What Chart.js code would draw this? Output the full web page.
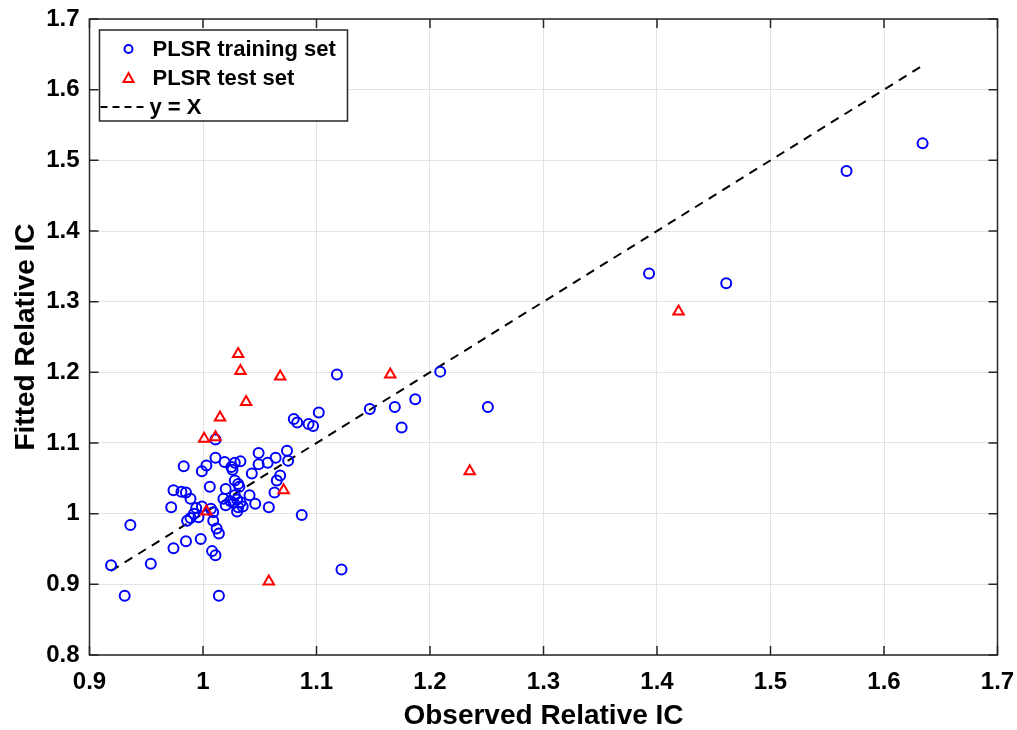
<!DOCTYPE html>
<html>
<head>
<meta charset="utf-8">
<script src="https://cdn.jsdelivr.net/npm/chart.js@4"></script>
<style>
  html, body { margin: 0; padding: 0; background: #fff; }
  #wrap { width: 1017px; height: 730px; position: relative; }
</style>
</head>
<body>
<div id="wrap"><canvas id="plsrChart"></canvas></div>
<script>
// observed / fitted relative IC
const obsTrain = [0.919, 0.931, 0.936, 0.954, 0.972, 0.974, 0.974, 0.981, 0.985, 0.983,
  0.985, 0.989, 0.986, 0.989, 0.992, 0.994, 0.996, 0.999, 0.998, 0.999,
  1.003, 1.006, 1.007, 1.009, 1.009, 1.012, 1.014, 1.008, 1.011, 1.014,
  1.011, 1.011, 1.019, 1.025, 1.026, 1.028, 1.033, 1.028, 1.031, 1.032,
  1.020, 1.018, 1.020, 1.024, 1.027, 1.030, 1.028, 1.031, 1.030, 1.033,
  1.035, 1.041, 1.043, 1.046, 1.049, 1.049, 1.057, 1.058, 1.064, 1.063,
  1.065, 1.068, 1.074, 1.075, 1.087, 1.080, 1.083, 1.093, 1.097, 1.102,
  1.118, 1.122, 1.147, 1.169, 1.187, 1.175, 1.209, 1.251, 1.393, 1.461,
  1.567, 1.634];
const fitTrain = [0.927, 0.884, 0.984, 0.929, 1.009, 0.951, 1.033, 1.031, 1.030, 1.067,
  0.961, 1.021, 0.990, 0.994, 1.000, 1.008, 0.995, 1.010, 0.964, 1.060,
  1.068, 1.038, 1.007, 1.002, 0.990, 0.979, 0.972, 0.947, 0.941, 0.884,
  1.079, 1.105, 1.073, 1.066, 1.062, 1.072, 1.074, 1.047, 1.042, 1.038,
  1.035, 1.021, 1.012, 1.018, 1.015, 1.020, 1.026, 1.009, 1.003, 1.016,
  1.010, 1.026, 1.057, 1.014, 1.086, 1.070, 1.072, 1.009, 1.079, 1.030,
  1.047, 1.054, 1.089, 1.075, 0.998, 1.134, 1.129, 1.127, 1.124, 1.143,
  1.197, 0.921, 1.148, 1.151, 1.162, 1.122, 1.201, 1.151, 1.340, 1.326,
  1.485, 1.524];

const obsTest = [1.031, 1.033, 1.068, 1.038, 1.015, 1.001, 1.011, 1.071, 1.003, 1.058,
  1.165, 1.235, 1.419];
const fitTest = [1.226, 1.202, 1.194, 1.158, 1.136, 1.106, 1.108, 1.033, 1.003, 0.904,
  1.197, 1.060, 1.286];

// y = x reference line, from min to max observed value
const lineX = [0.919, 1.634];

const xTicks = [0.9, 1, 1.1, 1.2, 1.3, 1.4, 1.5, 1.6, 1.7];
const yTicks = [0.8, 0.9, 1, 1.1, 1.2, 1.3, 1.4, 1.5, 1.6, 1.7];

const legendLabels = ['PLSR training set', 'PLSR test set', 'y = X'];

const FONT = "'Liberation Sans', Arial, sans-serif";

function toPoints(xs, ys) {
  return xs.map((x, i) => ({ x: x, y: ys[i] }));
}

// box around the axes, with MATLAB style ticks pointing inward
const framePlugin = {
  id: 'frame',
  afterDatasetsDraw(chart) {
    const { ctx, chartArea: a, scales: { x, y } } = chart;
    const len = 9;
    ctx.save();
    ctx.strokeStyle = '#262626';
    ctx.lineWidth = 1.5;
    ctx.strokeRect(a.left, a.top, a.right - a.left, a.bottom - a.top);
    ctx.beginPath();
    xTicks.forEach(v => {
      const px = x.getPixelForValue(v);
      ctx.moveTo(px, a.bottom); ctx.lineTo(px, a.bottom - len);
      ctx.moveTo(px, a.top); ctx.lineTo(px, a.top + len);
    });
    yTicks.forEach(v => {
      const py = y.getPixelForValue(v);
      ctx.moveTo(a.left, py); ctx.lineTo(a.left + len, py);
      ctx.moveTo(a.right, py); ctx.lineTo(a.right - len, py);
    });
    ctx.stroke();
    ctx.restore();
  }
};

// legend box in the upper left corner of the axes
const legendPlugin = {
  id: 'boxLegend',
  afterDraw(chart) {
    const { ctx, chartArea: a } = chart;
    const ds = chart.data.datasets;
    const bx = a.left + 10, by = a.top + 11, bw = 248, bh = 91;
    ctx.save();
    ctx.fillStyle = '#fff';
    ctx.fillRect(bx, by, bw, bh);
    ctx.strokeStyle = '#262626';
    ctx.lineWidth = 1.5;
    ctx.strokeRect(bx, by, bw, bh);

    ctx.font = 'bold 22px ' + FONT;
    ctx.fillStyle = '#000';
    ctx.textBaseline = 'middle';
    const rows = [by + 19, by + 48, by + 77];

    // circle
    ctx.strokeStyle = ds[0].borderColor;
    ctx.lineWidth = 2;
    ctx.beginPath();
    ctx.arc(bx + 29, rows[0], 4, 0, Math.PI * 2);
    ctx.stroke();
    ctx.fillText(legendLabels[0], bx + 53, rows[0] + 1);

    // triangle
    ctx.strokeStyle = ds[1].borderColor;
    ctx.beginPath();
    ctx.moveTo(bx + 29, rows[1] - 5);
    ctx.lineTo(bx + 34, rows[1] + 4);
    ctx.lineTo(bx + 24, rows[1] + 4);
    ctx.closePath();
    ctx.stroke();
    ctx.fillText(legendLabels[1], bx + 53, rows[1] + 1);

    // dashed line
    ctx.strokeStyle = ds[2].borderColor;
    ctx.setLineDash([7, 5]);
    ctx.beginPath();
    ctx.moveTo(bx + 1, rows[2]);
    ctx.lineTo(bx + 48, rows[2]);
    ctx.stroke();
    ctx.setLineDash([]);
    ctx.fillText(legendLabels[2], bx + 50, rows[2] + 1);
    ctx.restore();
  }
};

new Chart(document.getElementById('plsrChart'), {
  type: 'scatter',
  data: {
    datasets: [
      {
        label: legendLabels[0],
        data: toPoints(obsTrain, fitTrain),
        pointStyle: 'circle',
        pointRadius: 5,
        pointBorderWidth: 2,
        borderColor: '#0000ff',
        backgroundColor: 'rgba(0,0,0,0)',
        order: 2
      },
      {
        label: legendLabels[1],
        data: toPoints(obsTest, fitTest),
        pointStyle: 'triangle',
        pointRadius: 6,
        pointBorderWidth: 2,
        borderColor: '#ff0000',
        backgroundColor: 'rgba(0,0,0,0)',
        order: 1
      },
      {
        label: legendLabels[2],
        type: 'line',
        data: toPoints(lineX, lineX),
        borderColor: '#000',
        borderWidth: 2,
        borderDash: [9, 7],
        pointRadius: 0,
        fill: false,
        order: 3
      }
    ]
  },
  options: {
    responsive: true,
    maintainAspectRatio: false,
    animation: false,
    layout: { padding: { top: 19, right: 19.5, left: 0, bottom: 0 } },
    plugins: {
      legend: { display: false },
      tooltip: { enabled: false }
    },
    scales: {
      x: {
        type: 'linear',
        min: 0.9,
        max: 1.7,
        afterBuildTicks: s => { s.ticks = xTicks.map(v => ({ value: v })); },
        afterFit: s => { s.height = 75; s.paddingLeft = 0; s.paddingRight = 0; },
        grid: { color: '#e3e3e3', lineWidth: 1, drawTicks: false },
        border: { display: false },
        ticks: {
          padding: 13,
          color: '#000',
          maxRotation: 0,
          font: { family: FONT, size: 24, weight: 'bold' },
          callback: v => String(Math.round(v * 10) / 10)
        },
        title: {
          display: true,
          text: 'Observed Relative IC',
          color: '#000',
          font: { family: FONT, size: 28, weight: 'bold', lineHeight: 1 },
          padding: { top: 0, bottom: 0 }
        }
      },
      y: {
        type: 'linear',
        min: 0.8,
        max: 1.7,
        afterBuildTicks: s => { s.ticks = yTicks.map(v => ({ value: v })); },
        afterFit: s => { s.width = 89.5; s.paddingTop = 0; s.paddingBottom = 0; },
        grid: { color: '#e3e3e3', lineWidth: 1, drawTicks: false },
        border: { display: false },
        ticks: {
          padding: 10,
          color: '#000',
          font: { family: FONT, size: 24, weight: 'bold' },
          callback: v => String(Math.round(v * 10) / 10)
        },
        title: {
          display: true,
          text: 'Fitted Relative IC',
          color: '#000',
          font: { family: FONT, size: 28, weight: 'bold', lineHeight: 1 },
          padding: { top: 12, bottom: 0 }
        }
      }
    }
  },
  plugins: [framePlugin, legendPlugin]
});
</script>
</body>
</html>
